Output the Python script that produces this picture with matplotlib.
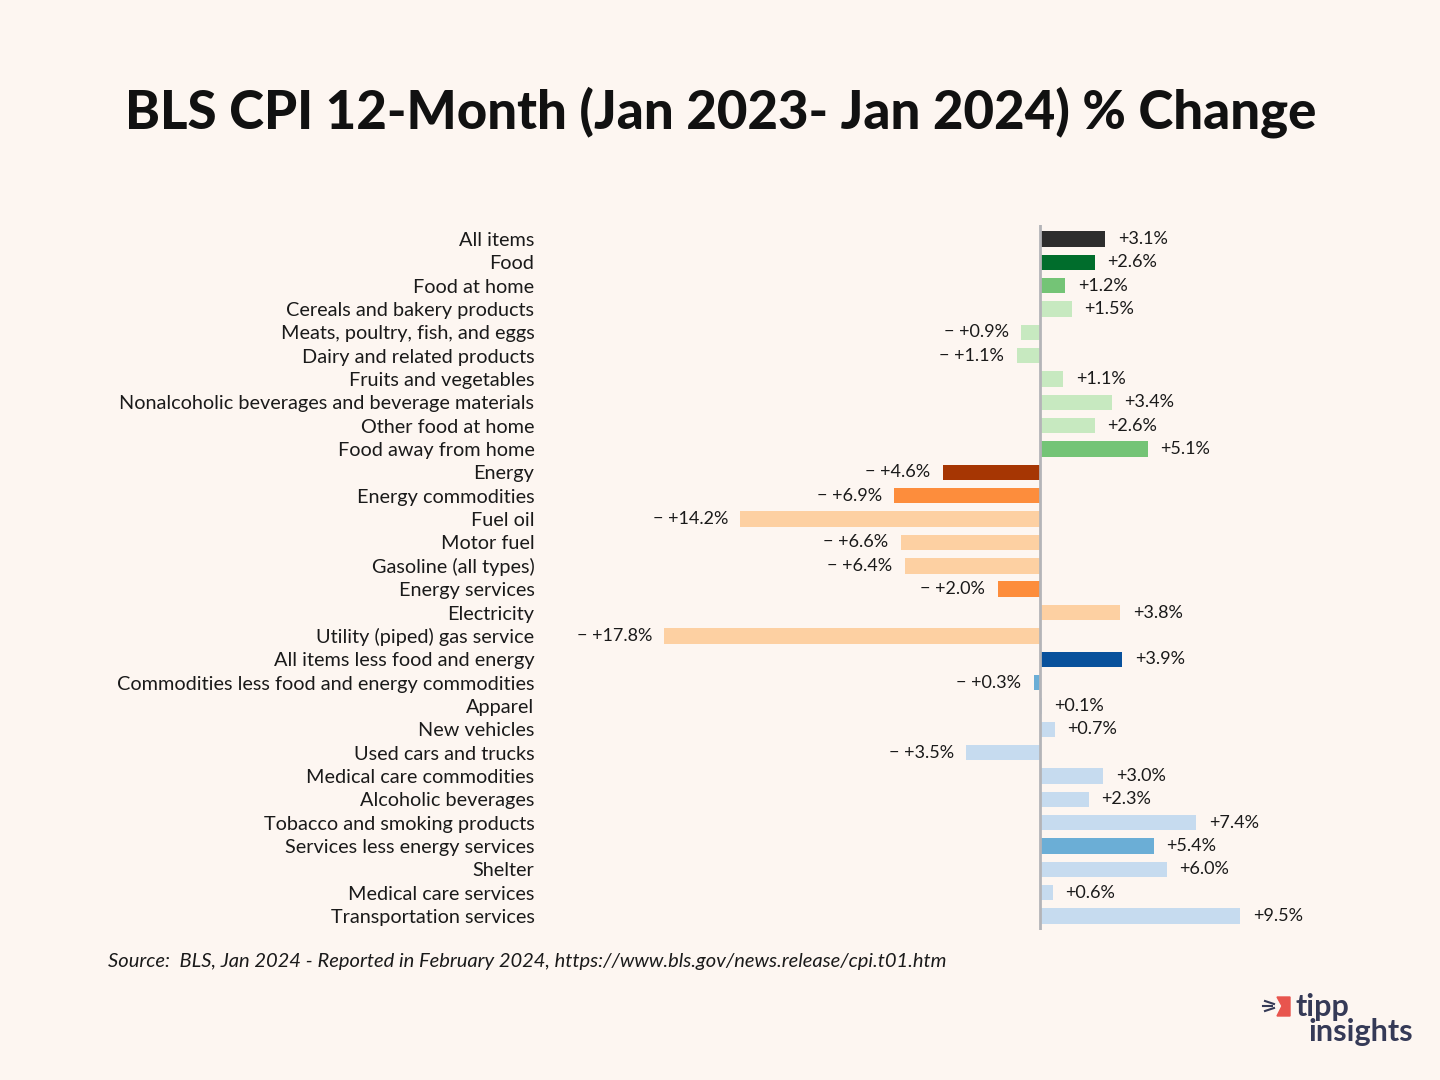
import matplotlib
matplotlib.use("Agg")
import matplotlib.pyplot as plt
from matplotlib.patches import Polygon

categories = [
    "All items", "Food", "Food at home", "Cereals and bakery products",
    "Meats, poultry, fish, and eggs", "Dairy and related products",
    "Fruits and vegetables", "Nonalcoholic beverages and beverage materials",
    "Other food at home", "Food away from home", "Energy", "Energy commodities",
    "Fuel oil", "Motor fuel", "Gasoline (all types)", "Energy services",
    "Electricity", "Utility (piped) gas service", "All items less food and energy",
    "Commodities less food and energy commodities", "Apparel", "New vehicles",
    "Used cars and trucks", "Medical care commodities", "Alcoholic beverages",
    "Tobacco and smoking products", "Services less energy services", "Shelter",
    "Medical care services", "Transportation services",
]
values = [3.1, 2.6, 1.2, 1.5, -0.9, -1.1, 1.1, 3.4, 2.6, 5.1, -4.6, -6.9,
          -14.2, -6.6, -6.4, -2.0, 3.8, -17.8, 3.9, -0.3, 0.1, 0.7, -3.5,
          3.0, 2.3, 7.4, 5.4, 6.0, 0.6, 9.5]
colors = ["#2d2d2d", "#006d2c", "#74c476", "#c7e9c0", "#c7e9c0", "#c7e9c0",
          "#c7e9c0", "#c7e9c0", "#c7e9c0", "#74c476", "#a63603", "#fd8d3c",
          "#fdd0a2", "#fdd0a2", "#fdd0a2", "#fd8d3c", "#fdd0a2", "#fdd0a2",
          "#08519c", "#6baed6", "#c6dbef", "#c6dbef", "#c6dbef", "#c6dbef",
          "#c6dbef", "#c6dbef", "#6baed6", "#c6dbef", "#c6dbef", "#c6dbef"]

title = "BLS CPI 12-Month (Jan 2023- Jan 2024) % Change"
source = "Source:  BLS, Jan 2024 - Reported in February 2024, https://www.bls.gov/news.release/cpi.t01.htm"

BG = "#fdf6f1"
plt.rcParams['font.family'] = ['Lato', 'DejaVu Sans']

W, H = 1440, 1080
fig = plt.figure(figsize=(W / 100, H / 100), dpi=100, facecolor=BG)

ax_l, ax_r = 540, 1320
ax_t, ax_b = 225, 930
ax = fig.add_axes([ax_l / W, 1 - ax_b / H, (ax_r - ax_l) / W, (ax_b - ax_t) / H])
ax.set_facecolor(BG)

n = len(categories)
ypos = list(range(n))
ax.barh(ypos, values, color=colors, height=0.66, zorder=2)
ax.set_ylim(n - 0.4, -0.6)
scale = 21.1  # px per percent
zero_px = 1040
ax.set_xlim(-(zero_px - ax_l) / scale, (ax_r - zero_px) / scale)
ax.axvline(0, color="#b4b4b8", lw=2, zorder=3)

ax.set_yticks(ypos)
ax.set_yticklabels(categories, fontsize=14.3, color="#1a1a1a")
ax.tick_params(axis='y', length=0, pad=4)
ax.set_xticks([])
for s in ax.spines.values():
    s.set_visible(False)

for y, v in zip(ypos, values):
    if v >= 0:
        ax.annotate(f"+{v:.1f}%", (v, y), xytext=(9, 0), textcoords="offset points",
                    ha="left", va="center", fontsize=13, color="#1a1a1a")
    else:
        ax.annotate(f"\u2212 +{abs(v):.1f}%", (v, y), xytext=(-9, 0), textcoords="offset points",
                    ha="right", va="center", fontsize=13, color="#1a1a1a")

fig.text(721 / W, 1 - 112 / H, title, ha="center", va="center",
         fontsize=38, fontweight="black", color="#111111")
fig.text(108 / W, 1 - 961 / H, source, ha="left", va="center",
         fontsize=14.5, style="italic", color="#1a1a1a")

# logo
fig.text(1295 / W, 1 - 1007 / H, "tipp", ha="left", va="center",
         fontsize=22, fontweight="bold", color="#353a57")
fig.text(1308 / W, 1 - 1032 / H, "insights", ha="left", va="center",
         fontsize=22, fontweight="bold", color="#353a57")
flag = Polygon([(1277 / W, 1 - 997 / H), (1290 / W, 1 - 997 / H), (1290 / W, 1 - 1016 / H),
                (1277 / W, 1 - 1016 / H), (1282 / W, 1 - 1006 / H)],
               closed=True, transform=fig.transFigure, color="#e8554e")
fig.patches.append(flag)
for dy, x0 in [(-5, 1265), (0, 1263), (5, 1265)]:
    fig.lines.append(plt.Line2D([x0 / W, (x0 + 9) / W], [1 - (1006 + dy) / H, 1 - (1006 + dy * 0.4) / H],
                                transform=fig.transFigure, color="#353a57", lw=1.5))

fig.savefig("out.png", dpi=100, facecolor=BG)
